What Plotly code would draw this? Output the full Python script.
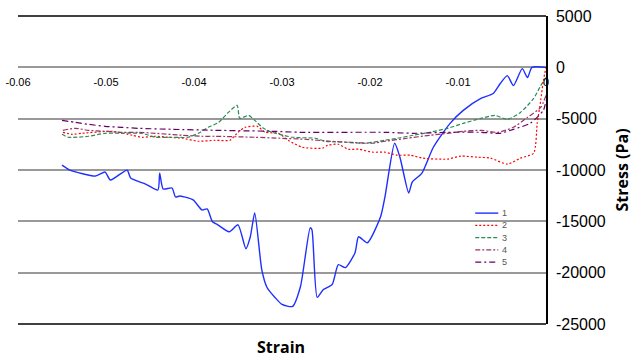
import plotly.graph_objects as go

# ---- data (strain, stress in Pa) ----
s1_x = [-0.0550, -0.0541, -0.0512, -0.0501, -0.0495, -0.0476, -0.0472, -0.0455, -0.0441, -0.0439,
        -0.0435, -0.0425, -0.0421, -0.0416, -0.0401, -0.0391, -0.0385, -0.0379, -0.0373, -0.0360,
        -0.0350, -0.0341, -0.0336, -0.0331, -0.0323, -0.0317, -0.0308, -0.0300, -0.0288, -0.0279,
        -0.0268, -0.0266, -0.0260, -0.0253, -0.0243, -0.0236, -0.0228, -0.0217, -0.0213, -0.0203,
        -0.0188, -0.0183, -0.0172, -0.0166, -0.0156, -0.0152, -0.0141, -0.0128, -0.0109, -0.0094,
        -0.0074, -0.0060, -0.0052, -0.0044, -0.0037, -0.0027, -0.0021, -0.0016, 0.0]
s1_y = [-9525, -10010, -10591, -10203, -10979, -10010, -10785, -11367, -11948, -10300,
        -11851, -11754, -12626, -12529, -12917, -13886, -13789, -15048, -15339, -16017,
        -15339, -17665, -16502, -14176, -19699, -21443, -22412, -23090, -23284, -21346,
        -15630, -15824, -22412, -21637, -21152, -19214, -19505, -18051, -16502, -17083,
        -14564, -12626, -7393, -8750, -12238, -11172, -10300, -7781, -5455, -4195,
        -3033, -2549, -1580, -804, -1773, -126, -998, 0, 0]

s2_x = [-0.0549, -0.0538, -0.0527, -0.0493, -0.0470, -0.0459, -0.0444, -0.0429, -0.0413, -0.0395,
        -0.0376, -0.0359, -0.0350, -0.0342, -0.0328, -0.0319, -0.0304, -0.0293, -0.0277, -0.0254,
        -0.0248, -0.0236, -0.0225, -0.0213, -0.0197, -0.0183, -0.0169, -0.0154, -0.0140, -0.0112,
        -0.0097, -0.0078, -0.0063, -0.0044, -0.0029, -0.0014, -0.0010, -0.0006, -0.0003, 0.0]
s2_y = [-6328, -6521, -6425, -6231, -6619, -6812, -6715, -6812, -6909, -7200,
        -7103, -7103, -6328, -5843, -5746, -6328, -6425, -7103, -7781, -7878,
        -7587, -7490, -7975, -7975, -8266, -8266, -8556, -8556, -8847, -8944,
        -8653, -8750, -8847, -9428, -8847, -8362, -5455, -3227, -1289, 0]

s3_x = [-0.0550, -0.0543, -0.0520, -0.0501, -0.0482, -0.0459, -0.0444, -0.0425, -0.0407, -0.0395,
        -0.0384, -0.0372, -0.0361, -0.0351, -0.0348, -0.0338, -0.0331, -0.0321, -0.0311, -0.0288,
        -0.0262, -0.0251, -0.0228, -0.0205, -0.0183, -0.0169, -0.0151, -0.0132, -0.0112, -0.0094,
        -0.0074, -0.0058, -0.0044, -0.0029, -0.0014, -0.0006, 0.0]
s3_y = [-6521, -6812, -6715, -6425, -6425, -6425, -6812, -6812, -6812, -6425,
        -5843, -5358, -4390, -3711, -4971, -4680, -5165, -5940, -6328, -6812,
        -6909, -7200, -7297, -7393, -7103, -6909, -6618, -6328, -5940, -5455,
        -4971, -4680, -5068, -4390, -3033, -1773, -998]

s4_x = [-0.0549, -0.0535, -0.0520, -0.0501, -0.0482, -0.0463, -0.0444, -0.0413, -0.0391, -0.0376,
        -0.0331, -0.0302, -0.0274, -0.0245, -0.0223, -0.0197, -0.0183, -0.0158, -0.0132, -0.0112,
        -0.0094, -0.0074, -0.0055, -0.0037, -0.0021, -0.0006, 0.0]
s4_y = [-6134, -5940, -6134, -6231, -6328, -6328, -6425, -6618, -6715, -6715,
        -6812, -6909, -7006, -7200, -7297, -7393, -7200, -6909, -6618, -6425,
        -6231, -6134, -6328, -5843, -4874, -3905, -2742]

s5_x = [-0.0550, -0.0535, -0.0520, -0.0501, -0.0482, -0.0463, -0.0425, -0.0376, -0.0311, -0.0279,
        -0.0183, -0.0151, -0.0112, -0.0074, -0.0052, -0.0037, -0.0018, -0.0003, 0.0]
s5_y = [-5165, -5358, -5552, -5746, -5843, -5940, -6037, -6134, -6231, -6328,
        -6328, -6425, -6328, -6328, -6425, -6037, -5455, -4195, -3227]

series_names = ["1", "2", "3", "4", "5"]
x_ticks = [-0.06, -0.05, -0.04, -0.03, -0.02, -0.01, 0]
x_ticktext = ["-0.06", "-0.05", "-0.04", "-0.03", "-0.02", "-0.01", "0"]
y_ticks = [5000, 0, -5000, -10000, -15000, -20000, -25000]
y_ticktext = ["5000", "0", "-5000", "-10000", "-15000", "-20000", "-25000"]

styles = [
    dict(color="#1f2fff", width=1.4, dash="solid"),
    dict(color="#ff0000", width=1.2, dash="2px,2px"),
    dict(color="#2e8b57", width=1.2, dash="4px,2px"),
    dict(color="#993366", width=1.2, dash="5px,2px,2px,2px"),
    dict(color="#660066", width=1.2, dash="6px,3px,2px,3px"),
]

fig = go.Figure()
for name, xs, ys, st in zip(series_names, [s1_x, s2_x, s3_x, s4_x, s5_x],
                            [s1_y, s2_y, s3_y, s4_y, s5_y], styles):
    fig.add_trace(go.Scatter(x=xs, y=ys, mode="lines", name=name, line=st,
                             line_shape="spline", line_smoothing=0.6, showlegend=False))

# custom compact legend (paper coordinates)
leg_shapes = []
leg_annots = []
leg_top = 0.360
leg_step = 0.0397
for i, (name, st) in enumerate(zip(series_names, styles)):
    yy = leg_top - i * leg_step
    leg_shapes.append(dict(type="line", xref="paper", yref="paper",
                           x0=0.866, x1=0.9096, y0=yy, y1=yy,
                           line=dict(color=st["color"], width=st["width"], dash=st["dash"])))
    leg_annots.append(dict(text=name, xref="paper", yref="paper", x=0.9135, y=yy,
                           xanchor="left", yanchor="middle", showarrow=False,
                           font=dict(size=9, color="#555555")))

fig.update_layout(
    width=632, height=357,
    margin=dict(l=18, r=86, t=16, b=33, autoexpand=False),
    paper_bgcolor="white", plot_bgcolor="white",
    font=dict(family="Liberation Sans, Arial, sans-serif", color="black"),
    showlegend=False,
    xaxis=dict(range=[-0.06, 0], tickvals=x_ticks, ticktext=x_ticktext,
               showgrid=False, zeroline=False, showline=False, automargin=False,
               anchor="free", position=0.8346,
               ticks="outside", ticklen=5, tickcolor="rgba(0,0,0,0)",
               tickfont=dict(size=11, color="black")),
    yaxis=dict(range=[-25000, 5000], tickvals=y_ticks, ticktext=y_ticktext,
               side="right", showgrid=True, gridcolor="#999999", gridwidth=1.5,
               zeroline=False, showline=True, linecolor="black", linewidth=1.5,
               automargin=False,
               ticks="outside", ticklen=5, tickcolor="rgba(0,0,0,0)",
               tickfont=dict(size=16, color="black")),
    shapes=[
        dict(type="line", xref="paper", yref="paper", x0=0, x1=1, y0=1, y1=1,
             line=dict(color="black", width=1.5)),
        dict(type="line", xref="paper", yref="paper", x0=0, x1=1, y0=0, y1=0,
             line=dict(color="black", width=1.5)),
    ] + leg_shapes,
    annotations=[
        dict(text="<b>Strain</b>", xref="paper", yref="paper", x=0.499, y=-0.075,
             xanchor="center", yanchor="middle", showarrow=False,
             font=dict(family="Open Sans, sans-serif", size=16, color="black")),
        dict(text="<b>Stress (Pa)</b>", xref="paper", yref="paper", x=1.143, y=0.5,
             xanchor="center", yanchor="middle", showarrow=False, textangle=-90,
             font=dict(family="Open Sans, sans-serif", size=16, color="black")),
    ] + leg_annots,
)

fig.write_html("out.html")
